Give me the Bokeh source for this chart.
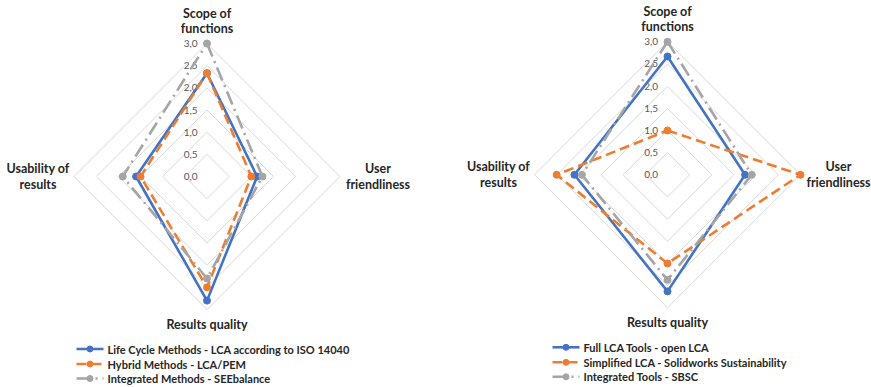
import math
from bokeh.plotting import figure
from bokeh.models import Range1d
from bokeh.layouts import row
from bokeh.embed import file_html
from bokeh.resources import INLINE
from bokeh.core.properties import value

# ---------------- data ----------------
categories = ["Scope of functions", "User friendliness", "Results quality", "Usability of results"]
category_lines = [["Scope of", "functions"], ["User", "friendliness"], ["Results quality"], ["Usability of", "results"]]
ticks = [0.0, 0.5, 1.0, 1.5, 2.0, 2.5, 3.0]
tick_labels = ["0,0", "0,5", "1,0", "1,5", "2,0", "2,5", "3,0"]

left_names = ["Life Cycle Methods - LCA according to ISO 14040",
              "Hybrid Methods - LCA/PEM",
              "Integrated Methods - SEEbalance"]
left_lca_iso = [2.33, 1.13, 2.8, 1.6]
left_hybrid = [2.33, 1.0, 2.5, 1.5]
left_seebalance = [3.0, 1.25, 2.3, 1.9]

right_names = ["Full LCA Tools - open LCA",
               "Simplified LCA - Solidworks Sustainability",
               "Integrated Tools - SBSC"]
right_openlca = [2.67, 1.75, 2.63, 2.1]
right_solidworks = [1.0, 3.0, 2.0, 2.5]
right_sbsc = [3.0, 1.9, 2.37, 1.93]

# ---------------- style ----------------
COLORS = ["#4472C4", "#ED7D31", "#A5A5A5"]
DASHES = ["solid", "10 5", "14 5 2 5"]
K = 44.33          # pixels per unit
H = 387
FONT = "Lato"
ANGLES = [0, 90, 180, 270]


def radar_xy(vals):
    xs = [v * math.sin(math.radians(a)) for v, a in zip(vals, ANGLES)]
    ys = [v * math.cos(math.radians(a)) for v, a in zip(vals, ANGLES)]
    return xs, ys


def make_radar(width, cx, cy, series, names, legend_text_dx):
    p = figure(width=width, height=H, output_backend="svg", toolbar_location=None,
               x_axis_type=None, y_axis_type=None, min_border=0,
               x_range=Range1d(-cx / K, (width - cx) / K),
               y_range=Range1d(-(H - cy) / K, cy / K))
    p.outline_line_color = None
    p.xgrid.visible = False
    p.ygrid.visible = False
    p.background_fill_color = "white"
    p.border_fill_color = "white"

    # grid diamonds
    for t in ticks[1:]:
        xs, ys = radar_xy([t] * 4)
        p.line(xs + xs[:1], ys + ys[:1], line_color="#D9D9D9", line_width=1)

    # tick labels
    p.text(x=[-9.5 / K] * len(ticks), y=ticks, text=tick_labels,
           text_align="right", text_baseline="middle", text_font=value(FONT),
           text_font_size="10px", text_color="#595959")

    # series
    for vals, c, d in zip(series, COLORS, DASHES):
        xs, ys = radar_xy(vals)
        p.line(xs + xs[:1], ys + ys[:1], line_color=c, line_width=2.6, line_dash=d)
        p.scatter(xs, ys, size=7, fill_color=c, line_color=c)

    # category labels (pixel offsets from centre)
    lab_pos = [(0, [-163, -148]), (171, [-8, 7.5]), (0, [147.5]), (-169, [-8, 7.5])]
    for lines, (dx, dys) in zip(category_lines, lab_pos):
        p.text(x=[dx / K] * len(lines), y=[-dy / K for dy in dys], text=lines,
               text_align="center", text_baseline="middle", text_font=value(FONT),
               text_font_size="12.5px", text_font_style="bold", text_color="#262626")

    # legend
    rows_dy = [172.5, 187.5, 202]
    for name, c, d, dy in zip(names, COLORS, DASHES, rows_dy):
        y = -dy / K
        x0 = (legend_text_dx - 31) / K
        x1 = (legend_text_dx - 4) / K
        p.line([x0, x1], [y, y], line_color=c, line_width=2.6, line_dash=d)
        p.scatter([(x0 + x1) / 2], [y], size=6, fill_color=c, line_color=c)
        p.text(x=[legend_text_dx / K], y=[y], text=[name], text_align="left",
               text_baseline="middle", text_font=value(FONT), text_font_size="11px",
               text_font_style="bold", text_color="#262626")
    return p


p1 = make_radar(435, 206.5, 176.0, [left_lca_iso, left_hybrid, left_seebalance], left_names, -99.5)
p2 = make_radar(436, 232.0, 174.3, [right_openlca, right_solidworks, right_sbsc], right_names, -84.0)

layout = row(p1, p2)
open("out.html", "w").write(file_html(layout, INLINE))
